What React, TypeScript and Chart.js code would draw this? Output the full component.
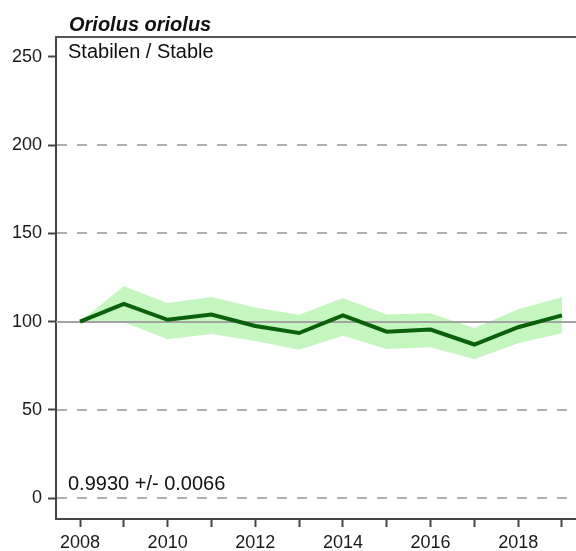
import React, { useEffect, useRef } from "react";
import { Chart, registerables } from "chart.js";

Chart.register(...registerables);

const years = [2008, 2009, 2010, 2011, 2012, 2013, 2014, 2015, 2016, 2017, 2018, 2019];
const index = [100, 110, 101, 104, 97.5, 93.5, 103.5, 94.3, 95.5, 87, 96.8, 103.5];
const upper = [100, 120, 110.5, 114, 108, 103.8, 113.3, 104, 104.7, 96.4, 107, 113.8];
const lower = [100, 99.6, 90, 93, 89, 84, 92, 84.5, 85.4, 78.6, 87.7, 93.4];
const yTicks = [0, 50, 100, 150, 200, 250];
const dashedGrid = [0, 50, 150, 200];
const baselineValue = 100;
const titleText = "Oriolus oriolus";
const trendText = "Stabilen / Stable";
const slopeText = "0.9930 +/- 0.0066";

const FONT = "'Liberation Sans', Arial, sans-serif";

export default function App() {
  const ref = useRef<HTMLCanvasElement | null>(null);

  useEffect(() => {
    if (!ref.current) return;
    const decor = {
      id: "decor",
      beforeDatasetsDraw(chart: any) {
        const { ctx, chartArea } = chart;
        const ys = chart.scales.y;
        ctx.save();
        ctx.strokeStyle = "#b0b0b0";
        ctx.lineWidth = 2;
        ctx.setLineDash([10, 10]);
        for (const v of dashedGrid) {
          const py = Math.round(ys.getPixelForValue(v));
          ctx.beginPath();
          ctx.moveTo(chartArea.left + 1, py);
          ctx.lineTo(chartArea.right, py);
          ctx.stroke();
        }
        ctx.restore();
      },
      beforeDatasetDraw(chart: any, args: any) {
        if (args.index !== 0) return;
        const { ctx, chartArea } = chart;
        const py = Math.round(chart.scales.y.getPixelForValue(baselineValue));
        ctx.save();
        ctx.strokeStyle = "#a3a3a3";
        ctx.lineWidth = 2;
        ctx.beginPath();
        ctx.moveTo(chartArea.left, py);
        ctx.lineTo(chartArea.right, py);
        ctx.stroke();
        ctx.restore();
      },
      afterDraw(chart: any) {
        const { ctx, chartArea } = chart;
        ctx.save();
        ctx.strokeStyle = "#555";
        ctx.lineWidth = 2;
        ctx.beginPath();
        ctx.moveTo(chartArea.left - 1, chartArea.top);
        ctx.lineTo(chartArea.right, chartArea.top);
        ctx.stroke();
        ctx.fillStyle = "#111";
        ctx.textBaseline = "alphabetic";
        ctx.textAlign = "left";
        ctx.font = `italic bold 20px ${FONT}`;
        ctx.fillText(titleText, chartArea.left + 13, chartArea.top - 6);
        ctx.font = `20px ${FONT}`;
        ctx.fillText(trendText, chartArea.left + 12, chartArea.top + 21);
        ctx.fillText(slopeText, chartArea.left + 12, chartArea.bottom - 29);
        ctx.restore();
      },
    };

    const chart = new Chart(ref.current, {
      type: "line",
      data: {
        datasets: [
          {
            label: "index",
            data: years.map((x, i) => ({ x, y: index[i] })),
            borderColor: "#0b600b",
            borderWidth: 4,
            pointRadius: 0,
            fill: false,
            order: 0,
            tension: 0,
          },
          {
            label: "upper",
            data: years.map((x, i) => ({ x, y: upper[i] })),
            borderWidth: 0,
            borderColor: "rgba(0,0,0,0)",
            backgroundColor: "rgb(198,246,192)",
            pointRadius: 0,
            fill: "+1",
            order: 1,
            tension: 0,
          },
          {
            label: "lower",
            data: years.map((x, i) => ({ x, y: lower[i] })),
            borderWidth: 0,
            borderColor: "rgba(0,0,0,0)",
            pointRadius: 0,
            fill: false,
            order: 2,
            tension: 0,
          },
        ],
      },
      options: {
        responsive: false,
        animation: false,
        layout: { padding: { top: 37, left: 0, right: 0, bottom: 0 } },
        plugins: {
          legend: { display: false },
          tooltip: { enabled: false },
          title: { display: false },
        },
        scales: {
          x: {
            type: "linear",
            min: 2007.452,
            max: 2019.32,
            afterBuildTicks: (s: any) => {
              s.ticks = years.map((v) => ({ value: v }));
            },
            afterFit: (s: any) => {
              s.height = 32;
            },
            ticks: {
              autoSkip: false,
              maxRotation: 0,
              minRotation: 0,
              padding: 5,
              color: "#1a1a1a",
              font: { family: FONT, size: 18 },
              callback: (v: any) => (Number(v) % 2 === 0 ? String(v) : ""),
            },
            grid: {
              drawOnChartArea: false,
              drawTicks: true,
              tickLength: 8,
              tickColor: "#444",
              tickWidth: 2,
            },
            border: { display: true, color: "#444", width: 2 },
          },
          y: {
            type: "linear",
            min: -11.9,
            max: 261.3,
            afterBuildTicks: (s: any) => {
              s.ticks = yTicks.map((v) => ({ value: v }));
            },
            afterFit: (s: any) => {
              s.width = 56;
            },
            ticks: {
              padding: 6,
              color: "#1a1a1a",
              font: { family: FONT, size: 18 },
              callback: (v: any) => String(v),
            },
            grid: {
              drawOnChartArea: false,
              drawTicks: true,
              tickLength: 8,
              tickColor: "#444",
              tickWidth: 2,
            },
            border: { display: true, color: "#444", width: 2 },
          },
        },
      },
      plugins: [decor],
    } as any);

    return () => chart.destroy();
  }, []);

  return (
    <div style={{ position: "absolute", left: 0, top: 0, width: 576, height: 551, background: "#fff" }}>
      <canvas ref={ref} width={576} height={551} />
    </div>
  );
}
